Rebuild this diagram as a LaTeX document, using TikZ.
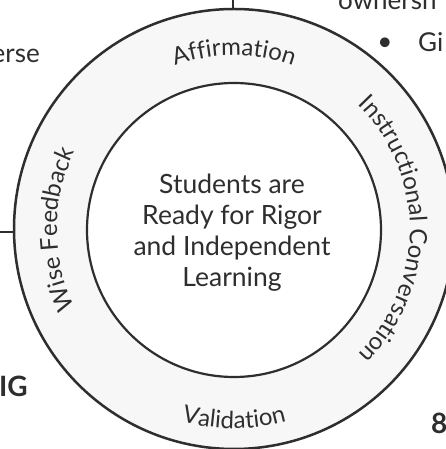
\documentclass[tikz,border=0pt]{standalone}
\usepackage{fontspec}
\setmainfont{Lato}
\usetikzlibrary{decorations.text}
\definecolor{ink}{HTML}{2E2E2E}
\definecolor{ringfill}{HTML}{F7F7F7}
\newcommand\ringfont{\fontsize{24}{28}\selectfont\color{ink}}
\newcommand\outfont{\fontsize{26}{30}\selectfont}
\begin{document}
\begin{tikzpicture}[x=1pt,y=1pt,
  ringline/.style={draw=ink,line width=2.5pt},
  stemline/.style={draw=ink,line width=2.2pt},
  sidetext/.style={text=ink,font=\outfont,inner sep=0pt},
  boldtext/.style={text=ink,font=\fontsize{28}{32}\selectfont\bfseries,inner sep=0pt},
  centertext/.style={text=ink,align=center,font=\fontsize{26.5}{31}\selectfont,inner sep=0pt}]
\clip (0,0) rectangle (446,449);
\fill[white] (0,0) rectangle (446,449);
% rings
\node[circle,ringline,fill=ringfill,minimum size=440pt,inner sep=0pt] (outer) at (234,220) {};
\node[circle,draw=ink,line width=2.2pt,fill=white,minimum size=294pt,inner sep=0pt] (inner) at (234,219) {};
\coordinate (C) at (234,219.5);
% stems
\coordinate (topstem) at (233,449);
\draw[stemline] (topstem) -- (topstem |- outer.north);
\coordinate (leftstem) at (0,217);
\draw[stemline] (leftstem) -- (leftstem -| outer.west);
% centre text
\node[centertext] (core) at (232,216.6) {Students are\\Ready for Rigor\\and Independent\\Learning};
% ring labels
\path[decorate,decoration={text along path,text align=center,text={|\ringfont|Affirmation}}]
  ([shift={(115:174)}]C) arc[start angle=115,end angle=65,radius=174];
\path[decorate,decoration={text along path,text align=center,text={|\ringfont|Instructional Conversation}}]
  ([shift={(62:176)}]C) arc[start angle=62,end angle=-62,radius=176];
\path[decorate,decoration={text along path,text align=center,text={|\ringfont|Wise Feedback}}]
  ([shift={(212:177)}]C) arc[start angle=212,end angle=148,radius=177];
\path[decorate,decoration={text along path,text align=center,text={|\ringfont|Validation}}]
  ([shift={(240:199)}]C) arc[start angle=240,end angle=300,radius=199];
% partial surrounding texts
\node[sidetext,anchor=base east] (erse) at (40,386) {erse};
\node[sidetext,anchor=base west] (owner) at (338,439) {ownersh};
\node[sidetext,anchor=center] (bullet) at (385,405) {•};
\node[sidetext,anchor=base west] (gi) at (418,397) {Gi};
\node[boldtext,anchor=base east] (ig) at (28,52) {IG};
\node[boldtext,anchor=base west] (eight) at (431,16) {8};
\end{tikzpicture}
\end{document}
